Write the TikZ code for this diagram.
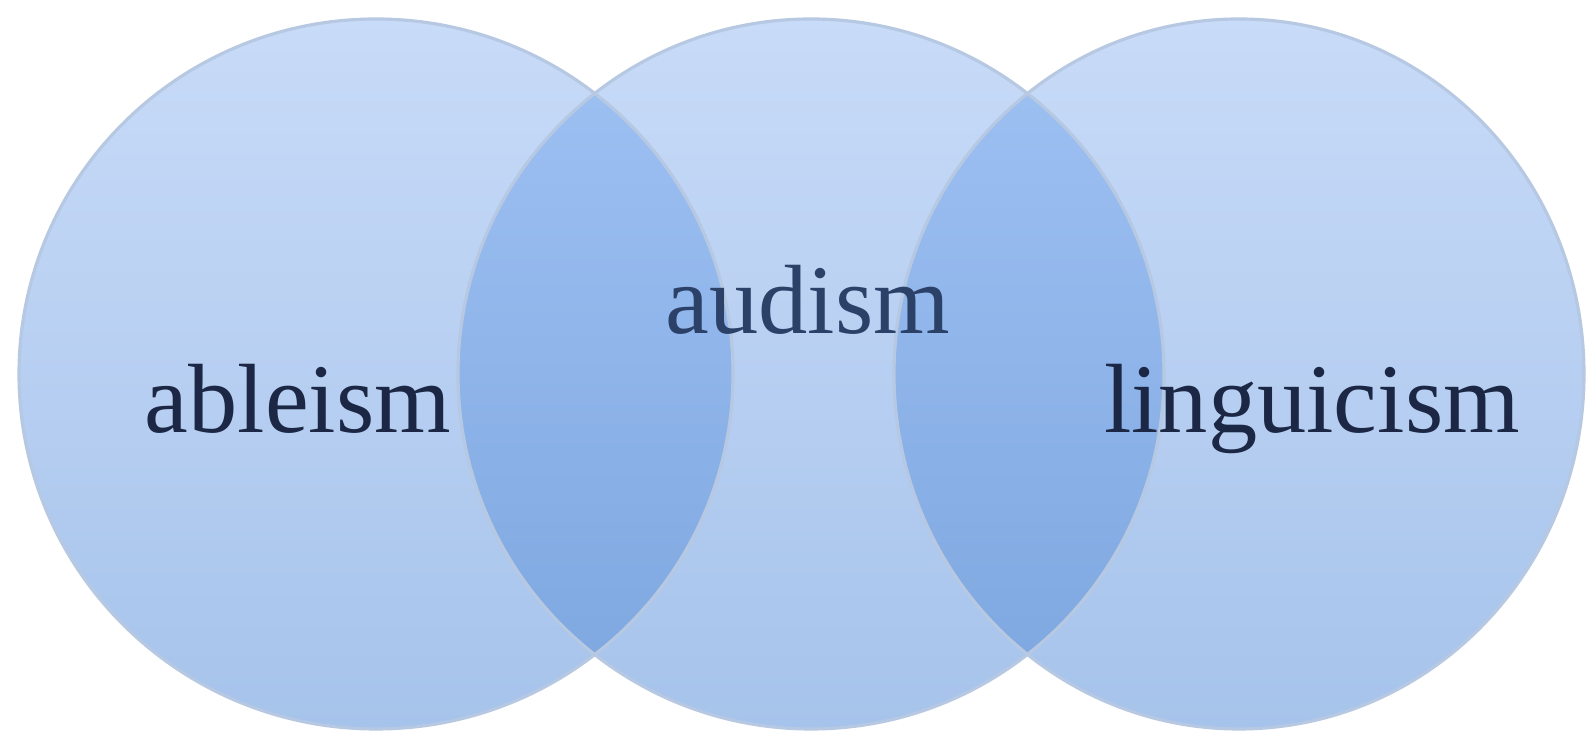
\documentclass[tikz,border=0pt]{standalone}
\usepackage{fontspec}
\setmainfont{Liberation Serif}
\definecolor{disctop}{HTML}{C8DBF8}
\definecolor{discbot}{HTML}{A6C3EB}
\definecolor{lenstop}{HTML}{A0C2F4}
\definecolor{lensbot}{HTML}{7CA6DF}
\definecolor{discrim}{HTML}{B6C8E2}
\definecolor{ink}{HTML}{1B2744}
\definecolor{softink}{HTML}{2C4168}
\tikzset{
 disc/.style={top color=disctop,bottom color=discbot},
 lens/.style={top color=lenstop,bottom color=lensbot},
 rim/.style={draw=discrim,line width=.9pt},
 term/.style={anchor=base,text=ink,font=\fontsize{28}{30}\selectfont,inner sep=0}
}
\begin{document}
\begin{tikzpicture}[x=1cm,y=1cm]
\path[use as bounding box,fill=white] (0,0) rectangle (15.96,7.31);
\def\ry{3.55}
\coordinate (abl) at (3.76,3.57);
\coordinate (aud) at (8.11,3.57);
\coordinate (lin) at (12.39,3.57);
\shade[disc] (abl) ellipse (3.57 and \ry);
\shade[disc] (aud) ellipse (3.53 and \ry);
\shade[disc] (lin) ellipse (3.45 and \ry);
% overlaps
\begin{scope}
\clip (abl) ellipse (3.57 and \ry);
\shade[lens] (aud) ellipse (3.53 and \ry);
\end{scope}
\begin{scope}
\clip (lin) ellipse (3.45 and \ry);
\shade[lens] (aud) ellipse (3.53 and \ry);
\end{scope}
\draw[rim] (abl) ellipse (3.57 and \ry);
\draw[rim] (aud) ellipse (3.53 and \ry);
\draw[rim] (lin) ellipse (3.45 and \ry);
\node[term] (ableism) at (2.98,2.98) {ableism};
\node[term,text=softink] (audism) at (8.08,3.97) {audism};
\node[term] (linguicism) at (13.12,2.98) {linguicism};
\end{tikzpicture}
\end{document}
